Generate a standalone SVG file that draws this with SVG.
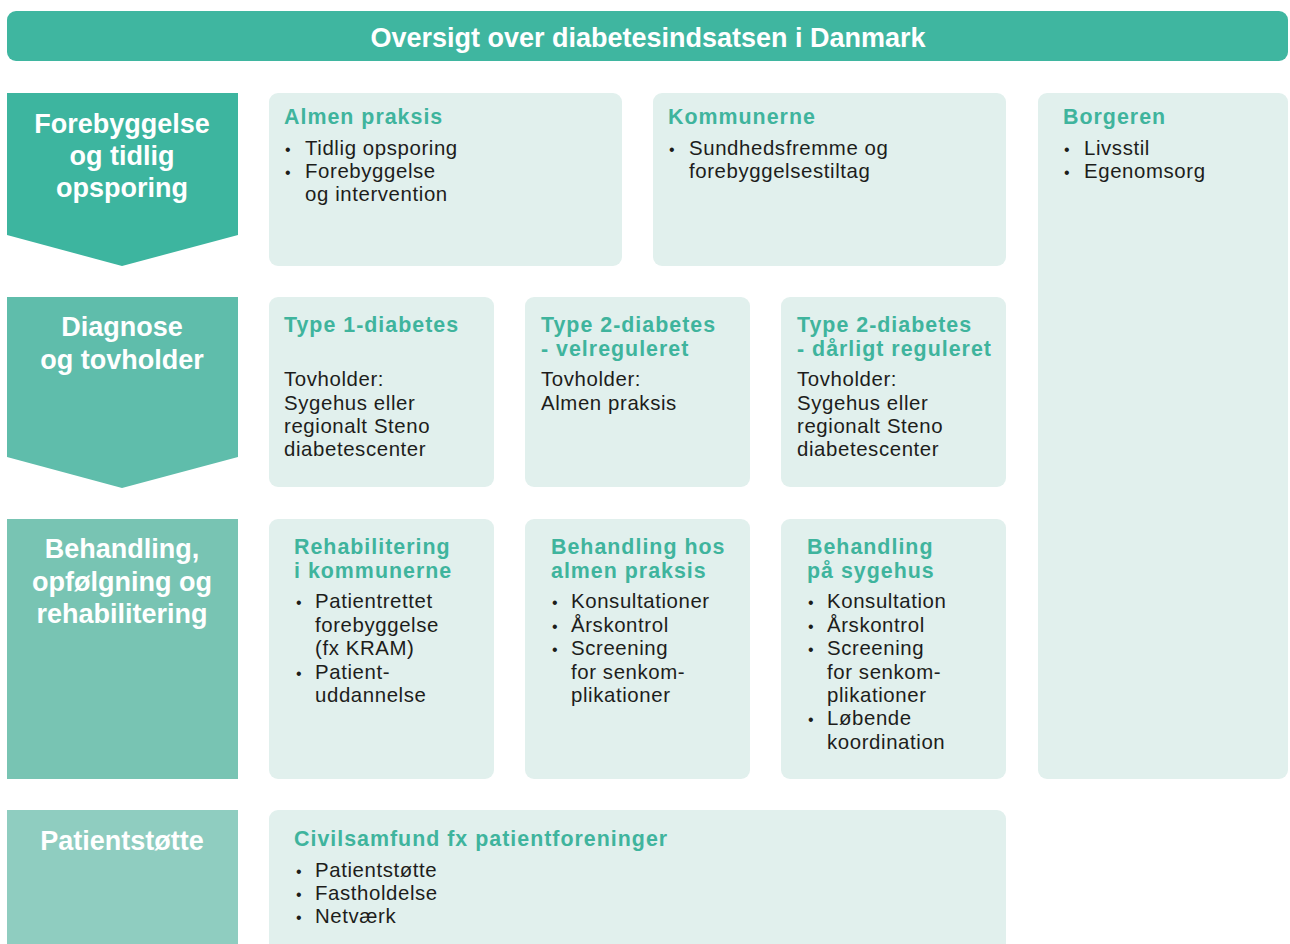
<svg xmlns="http://www.w3.org/2000/svg" width="1290" height="944" viewBox="0 0 1290 944">
<style>
text{font-family:"Liberation Sans",Arial,sans-serif}
.box{fill:#e1f0ed}
.hd{fill:#3fb49d;font-size:21.4px;font-weight:bold;letter-spacing:1px}
.tx{fill:#1d1d1b;font-size:20.4px;letter-spacing:0.6px}
.bu{font-size:16px;letter-spacing:0}
.lb{fill:#ffffff;font-size:27px;font-weight:bold;text-anchor:middle}
</style>
<rect width="1290" height="944" fill="#ffffff"/>
<g id="title">
<rect x="7" y="11" width="1281" height="50" rx="9" fill="#3fb6a0"/>
<text x="648" y="47" fill="#ffffff" font-size="27" font-weight="bold" text-anchor="middle">Oversigt over diabetesindsatsen i Danmark</text>
</g>
<g id="stage1">
<polygon points="7,93 238,93 238,235 122,266 7,235" fill="#3db59f"/>
<text class="lb"><tspan x="122" y="133">Forebyggelse</tspan><tspan x="122" y="165">og tidlig</tspan><tspan x="122" y="197">opsporing</tspan></text>
</g>
<g id="stage2">
<polygon points="7,297 238,297 238,457 122,488 7,457" fill="#5fbdab"/>
<text class="lb"><tspan x="122" y="336">Diagnose</tspan><tspan x="122" y="369">og tovholder</tspan></text>
</g>
<g id="stage3">
<rect x="7" y="519" width="231" height="260" fill="#78c4b3"/>
<text class="lb"><tspan x="122" y="558">Behandling,</tspan><tspan x="122" y="591">opfølgning og</tspan><tspan x="122" y="623">rehabilitering</tspan></text>
</g>
<g id="stage4">
<rect x="7" y="810" width="231" height="134" fill="#8fcdc0"/>
<text class="lb" x="122" y="850">Patientstøtte</text>
</g>
<g id="almen">
<rect class="box" x="269" y="93" width="353" height="173" rx="9"/>
<text class="hd" x="284" y="124">Almen praksis</text>
<text class="tx"><tspan class="bu" x="285" y="155">•</tspan><tspan x="305" y="155">Tidlig opsporing</tspan><tspan class="bu" x="285" y="178">•</tspan><tspan x="305" y="178">Forebyggelse</tspan><tspan x="305" y="201">og intervention</tspan></text>
</g>
<g id="kommunerne">
<rect class="box" x="653" y="93" width="353" height="173" rx="9"/>
<text class="hd" x="668" y="124">Kommunerne</text>
<text class="tx"><tspan class="bu" x="669" y="155">•</tspan><tspan x="689" y="155">Sundhedsfremme og</tspan><tspan x="689" y="178">forebyggelsestiltag</tspan></text>
</g>
<g id="borgeren">
<rect class="box" x="1038" y="93" width="250" height="686" rx="9"/>
<text class="hd" x="1063" y="124">Borgeren</text>
<text class="tx"><tspan class="bu" x="1064" y="155">•</tspan><tspan x="1084" y="155">Livsstil</tspan><tspan class="bu" x="1064" y="178">•</tspan><tspan x="1084" y="178">Egenomsorg</tspan></text>
</g>
<g id="type1">
<rect class="box" x="269" y="297" width="225" height="190" rx="9"/>
<text class="hd" x="284" y="332">Type 1-diabetes</text>
<text class="tx"><tspan x="284" y="386">Tovholder:</tspan><tspan x="284" y="410">Sygehus eller</tspan><tspan x="284" y="433">regionalt Steno</tspan><tspan x="284" y="456">diabetescenter</tspan></text>
</g>
<g id="type2velreg">
<rect class="box" x="525" y="297" width="225" height="190" rx="9"/>
<text class="hd"><tspan x="541" y="332">Type 2-diabetes</tspan><tspan x="541" y="356">- velreguleret</tspan></text>
<text class="tx"><tspan x="541" y="386">Tovholder:</tspan><tspan x="541" y="410">Almen praksis</tspan></text>
</g>
<g id="type2daarligt">
<rect class="box" x="781" y="297" width="225" height="190" rx="9"/>
<text class="hd"><tspan x="797" y="332">Type 2-diabetes</tspan><tspan x="797" y="356">- dårligt reguleret</tspan></text>
<text class="tx"><tspan x="797" y="386">Tovholder:</tspan><tspan x="797" y="410">Sygehus eller</tspan><tspan x="797" y="433">regionalt Steno</tspan><tspan x="797" y="456">diabetescenter</tspan></text>
</g>
<g id="rehab">
<rect class="box" x="269" y="519" width="225" height="260" rx="9"/>
<text class="hd"><tspan x="294" y="554">Rehabilitering</tspan><tspan x="294" y="578">i kommunerne</tspan></text>
<text class="tx"><tspan class="bu" x="296" y="608">•</tspan><tspan x="315" y="608">Patientrettet</tspan><tspan x="315" y="632">forebyggelse</tspan><tspan x="315" y="655">(fx KRAM)</tspan><tspan class="bu" x="296" y="679">•</tspan><tspan x="315" y="679">Patient-</tspan><tspan x="315" y="702">uddannelse</tspan></text>
</g>
<g id="behandlingalmen">
<rect class="box" x="525" y="519" width="225" height="260" rx="9"/>
<text class="hd"><tspan x="551" y="554">Behandling hos</tspan><tspan x="551" y="578">almen praksis</tspan></text>
<text class="tx"><tspan class="bu" x="552" y="608">•</tspan><tspan x="571" y="608">Konsultationer</tspan><tspan class="bu" x="552" y="632">•</tspan><tspan x="571" y="632">Årskontrol</tspan><tspan class="bu" x="552" y="655">•</tspan><tspan x="571" y="655">Screening</tspan><tspan x="571" y="679">for senkom-</tspan><tspan x="571" y="702">plikationer</tspan></text>
</g>
<g id="behandlingsygehus">
<rect class="box" x="781" y="519" width="225" height="260" rx="9"/>
<text class="hd"><tspan x="807" y="554">Behandling</tspan><tspan x="807" y="578">på sygehus</tspan></text>
<text class="tx"><tspan class="bu" x="808" y="608">•</tspan><tspan x="827" y="608">Konsultation</tspan><tspan class="bu" x="808" y="632">•</tspan><tspan x="827" y="632">Årskontrol</tspan><tspan class="bu" x="808" y="655">•</tspan><tspan x="827" y="655">Screening</tspan><tspan x="827" y="679">for senkom-</tspan><tspan x="827" y="702">plikationer</tspan><tspan class="bu" x="808" y="725">•</tspan><tspan x="827" y="725">Løbende</tspan><tspan x="827" y="749">koordination</tspan></text>
</g>
<g id="civilsamfund">
<rect class="box" x="269" y="810" width="737" height="150" rx="9"/>
<text class="hd" x="294" y="846">Civilsamfund fx patientforeninger</text>
<text class="tx"><tspan class="bu" x="296" y="877">•</tspan><tspan x="315" y="877">Patientstøtte</tspan><tspan class="bu" x="296" y="900">•</tspan><tspan x="315" y="900">Fastholdelse</tspan><tspan class="bu" x="296" y="923">•</tspan><tspan x="315" y="923">Netværk</tspan></text>
</g>
<g id="connectors"/>
</svg>
